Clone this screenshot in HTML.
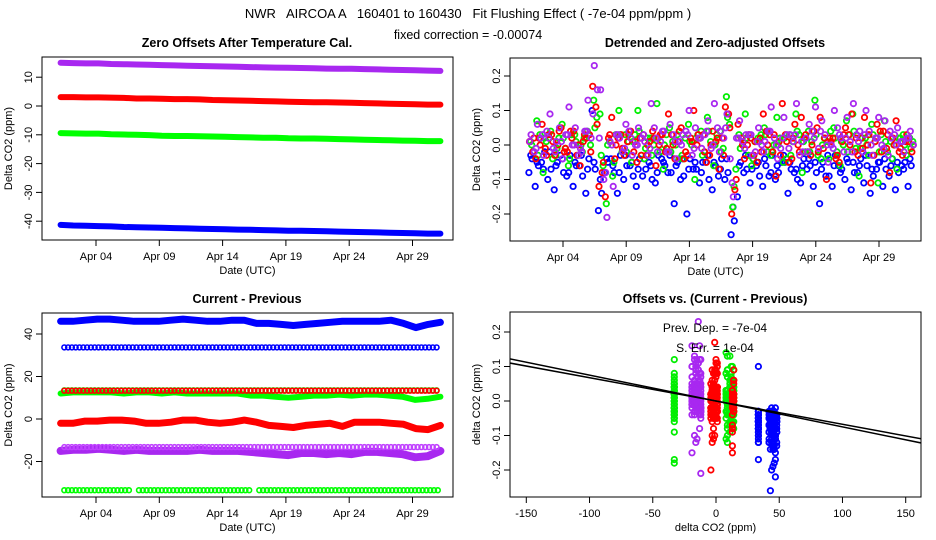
<!DOCTYPE html>
<html><head><meta charset="utf-8">
<style>
html,body{margin:0;padding:0;background:#fff;}
svg{display:block;font-family:"Liberation Sans",sans-serif;}
</style></head>
<body>
<svg id="s" width="936" height="540" viewBox="0 0 936 540" xmlns="http://www.w3.org/2000/svg">
<text x="468" y="18" font-size="13" text-anchor="middle" xml:space="preserve">NWR   AIRCOA A   160401 to 160430   Fit Flushing Effect ( -7e-04 ppm/ppm )</text>
<text x="468" y="39" font-size="12.5" text-anchor="middle">fixed correction = -0.00074</text>
<text x="247" y="47" font-size="12.5" font-weight="bold" text-anchor="middle">Zero Offsets After Temperature Cal.</text>
<text x="715" y="47" font-size="12.5" font-weight="bold" text-anchor="middle">Detrended and Zero-adjusted Offsets</text>
<text x="247" y="303" font-size="12.5" font-weight="bold" text-anchor="middle">Current - Previous</text>
<text x="715" y="303" font-size="12.5" font-weight="bold" text-anchor="middle">Offsets vs. (Current - Previous)</text>
</svg>
<script>
// ---------- data ----------
const dateTicks=[4,9,14,19,24,29];
const dateTickLabels=["Apr 04","Apr 09","Apr 14","Apr 19","Apr 24","Apr 29"];
const p1Ticks=[-40,-30,-20,-10,0,10];
const p2Ticks=[-0.2,-0.1,0,0.1,0.2];
const p2TickLabels=["-0.2","-0.1","0.0","0.1","0.2"];
const p3Ticks=[-20,0,20,40];
const p4XTicks=[-150,-100,-50,0,50,100,150];

// Panel 1 bands (daily)
const p1Purple=[15,14.9,14.8,14.8,14.6,14.5,14.4,14.3,14.2,14.1,14,13.9,13.8,13.7,13.6,13.5,13.4,13.35,13.3,13.2,13.1,13.0,12.95,12.9,12.8,12.7,12.6,12.5,12.4,12.3,12.2];
const p1Red=[3.1,3.1,3.0,3.0,2.9,2.8,2.6,2.6,2.5,2.4,2.4,2.3,2.1,2.0,1.9,1.8,1.7,1.6,1.5,1.4,1.3,1.3,1.2,1.1,1.0,0.9,0.8,0.7,0.6,0.5,0.5];
const p1Green=[-9.4,-9.5,-9.6,-9.6,-9.8,-9.9,-10.0,-10.1,-10.3,-10.4,-10.4,-10.5,-10.6,-10.7,-10.8,-10.9,-11.0,-11.0,-11.2,-11.3,-11.3,-11.4,-11.5,-11.6,-11.7,-11.8,-11.9,-12.0,-12.1,-12.2,-12.2];
const p1Blue=[-41.3,-41.5,-41.6,-41.7,-41.8,-42.0,-42.1,-42.2,-42.3,-42.4,-42.5,-42.6,-42.7,-42.8,-42.9,-43.0,-43.1,-43.2,-43.3,-43.3,-43.4,-43.5,-43.6,-43.7,-43.8,-43.9,-44.0,-44.1,-44.2,-44.3,-44.3];

// Panel 2 scatter
const p2BlueA=[-0.08,-0.12,-0.05,-0.10,-0.13,-0.03,-0.09,-0.12,-0.06,-0.14,0.10,-0.19,-0.08,-0.04,-0.14,-0.10,-0.06,-0.12,-0.09,-0.05,-0.11,-0.04,-0.08,-0.17,-0.10,-0.20,-0.07,-0.11,-0.05,-0.13,-0.09,-0.10,-0.26,-0.15,-0.08,-0.11,-0.06,-0.12,-0.09,-0.10,-0.05,-0.14,-0.08,-0.11,-0.07,-0.12,-0.17,-0.09,-0.12,-0.06,-0.10,-0.13,-0.08,-0.11,-0.14,-0.07,-0.12,-0.09,-0.13,-0.06,-0.12];
const p2BlueB=[-0.04,-0.06,-0.02,-0.07,-0.05,-0.08,-0.03,-0.06,-0.09,-0.04,-0.07,-0.14,-0.05,-0.08,-0.03,-0.06,-0.09,-0.04,-0.07,-0.10,-0.03,-0.06,-0.08,-0.05,-0.09,-0.04,-0.07,-0.05,-0.10,-0.06,-0.04,-0.08,-0.22,-0.05,-0.07,-0.04,-0.09,-0.06,-0.03,-0.08,-0.05,-0.07,-0.10,-0.04,-0.06,-0.08,-0.05,-0.09,-0.03,-0.07,-0.05,-0.08,-0.04,-0.06,-0.09,-0.05,-0.07,-0.04,-0.08,-0.05,-0.06];
const p2BlueC=[-0.03,-0.05,-0.07,-0.02,-0.06,-0.04,-0.08,-0.05,-0.03,-0.07,-0.05,-0.10,-0.04,-0.06,-0.08,-0.03,-0.05,-0.07,-0.04,-0.06,-0.08,-0.05,-0.03,-0.06,-0.04,-0.07,-0.05,-0.08,-0.03,-0.05,-0.07,-0.04,-0.18,-0.06,-0.03,-0.07,-0.05,-0.04,-0.08,-0.06,-0.03,-0.05,-0.07,-0.06,-0.04,-0.05,-0.07,-0.03,-0.06,-0.08,-0.04,-0.05,-0.06,-0.03,-0.07,-0.05,-0.04,-0.06,-0.05,-0.07,-0.04];
const p2GreenA=[0.01,0.07,-0.08,0.02,-0.03,0.06,-0.06,0.03,0.00,0.04,0.13,0.09,-0.17,-0.09,0.10,0.03,-0.05,0.10,-0.04,0.02,0.12,-0.07,0.05,0.00,-0.03,0.06,-0.10,0.04,0.08,-0.06,0.04,0.14,-0.18,0.03,0.09,-0.06,0.02,0.05,-0.03,0.08,-0.05,0.03,0.09,-0.08,0.04,0.13,-0.04,0.01,0.05,-0.06,0.07,0.09,-0.09,0.02,0.06,-0.11,0.07,0.01,-0.07,0.03,0.02];
const p2GreenB=[-0.02,0.03,0.01,-0.04,0.02,-0.01,0.03,-0.03,0.02,0.00,0.08,-0.06,0.01,0.03,-0.02,0.01,0.03,-0.03,0.02,0.00,-0.02,0.03,0.01,-0.04,0.02,0.00,0.03,-0.02,0.01,0.03,-0.01,0.06,-0.07,0.02,-0.03,0.01,0.03,-0.02,0.00,0.02,-0.04,0.01,0.03,-0.02,0.01,-0.03,0.02,0.04,-0.02,0.00,0.03,-0.01,0.02,-0.03,0.01,0.03,-0.02,0.00,0.02,-0.03,0.01];
const p2GreenC=[0.00,-0.03,0.02,0.04,-0.01,0.02,-0.04,0.01,-0.02,0.03,0.05,-0.03,0.00,-0.05,0.03,-0.02,0.01,0.04,-0.01,-0.03,0.02,0.00,-0.02,0.03,-0.04,0.01,0.02,-0.03,0.04,0.00,-0.02,0.08,-0.12,-0.01,0.02,-0.04,0.01,0.03,-0.02,0.00,0.02,-0.03,0.04,0.01,-0.02,0.03,0.00,-0.04,0.02,0.01,-0.02,0.04,-0.01,0.00,0.03,-0.02,0.01,-0.04,0.02,0.00,-0.01];
const p2RedA=[0.01,-0.04,0.06,0.03,-0.03,0.05,-0.02,0.04,-0.06,0.02,0.17,-0.12,-0.15,0.08,0.02,-0.03,0.04,-0.05,0.03,0.01,-0.06,0.03,0.09,-0.04,0.05,-0.03,0.10,0.02,-0.05,0.04,-0.07,0.11,-0.20,0.06,-0.04,0.02,-0.05,0.09,0.03,-0.09,0.12,-0.05,0.06,0.08,-0.02,0.04,0.08,-0.10,0.02,-0.05,0.05,0.09,-0.03,0.08,-0.11,0.06,0.04,-0.08,0.07,-0.03,0.01];
const p2RedB=[-0.02,0.02,-0.01,0.03,0.00,-0.02,0.04,-0.03,0.01,0.03,0.11,-0.08,0.02,-0.04,0.03,0.01,-0.02,0.02,-0.03,0.04,0.00,-0.02,0.03,0.01,-0.04,0.02,0.00,0.03,-0.03,0.01,0.02,0.09,-0.13,0.02,0.00,-0.03,0.02,0.04,-0.02,0.01,0.03,-0.04,0.00,0.02,-0.03,0.05,-0.01,0.02,-0.04,0.01,0.03,-0.02,0.02,0.00,-0.03,0.04,-0.01,0.02,-0.02,0.01,-0.02];
const p2RedC=[0.02,0.00,-0.03,0.01,0.04,-0.01,0.02,0.00,0.03,-0.02,0.06,-0.05,0.03,0.00,-0.01,0.03,0.01,-0.03,0.00,0.02,0.03,-0.01,0.00,0.04,-0.02,0.01,0.03,-0.02,0.00,0.02,-0.03,0.05,-0.10,0.00,0.03,0.01,-0.02,0.00,0.03,-0.03,0.01,0.02,-0.02,0.03,0.00,-0.02,0.02,0.01,-0.03,0.03,0.00,0.02,-0.01,0.03,0.01,-0.02,0.03,0.00,-0.01,0.03,0.00];
const p2PurpleA=[0.03,0.06,-0.03,0.09,0.01,-0.04,0.11,0.05,-0.02,0.13,0.23,0.16,-0.21,-0.12,0.02,0.06,-0.03,0.05,0.01,0.12,-0.02,0.04,0.06,-0.04,0.03,0.10,0.05,-0.01,0.07,0.12,0.04,0.09,-0.15,0.07,0.03,-0.03,0.05,0.01,0.11,-0.04,0.08,0.03,0.12,-0.02,0.06,0.11,0.07,-0.05,0.10,0.02,0.08,0.12,0.04,0.10,-0.03,0.08,0.07,0.02,0.05,-0.02,0.04];
const p2PurpleB=[-0.02,0.02,0.04,-0.01,0.05,0.03,0.00,-0.03,0.04,0.02,0.16,-0.10,0.01,0.03,-0.02,0.04,0.00,0.02,-0.03,0.05,0.01,-0.02,0.03,0.01,0.04,-0.03,0.02,0.03,-0.01,0.05,0.02,-0.04,0.02,0.01,0.03,-0.02,0.00,0.04,0.02,-0.01,0.03,0.01,-0.03,0.02,0.04,-0.01,0.03,0.00,0.05,-0.02,0.01,0.03,-0.02,0.04,0.02,0.00,-0.03,0.03,0.01,0.02,0.00];
const p2PurpleC=[0.01,-0.01,0.03,0.02,-0.02,0.01,0.03,0.00,-0.01,0.04,0.09,0.02,-0.08,0.00,0.03,-0.01,0.02,0.00,0.03,-0.01,0.02,0.04,-0.02,0.01,0.00,0.03,-0.01,0.02,0.04,0.00,-0.02,0.05,-0.11,0.02,-0.01,0.03,0.01,-0.02,0.04,0.00,0.02,-0.01,0.03,0.01,-0.02,0.02,0.04,0.00,-0.01,0.03,0.02,-0.02,0.01,0.03,0.00,0.02,-0.01,0.04,0.00,0.01,0.02];

// Panel 3 bands (daily)
const p3Blue=[46,46,46.5,47,47,46.5,46,46,46,46.5,47,46.5,46,46,46.5,46.5,45,45,44.5,44,44.5,45,45.5,46,46,46,46,46.5,45,43,44.5,45.5];
const p3Green=[12,12.5,12.5,12.5,12.5,12,12.5,12.5,12,12.5,12,12,12,12,12,11,11,10.5,10,10.5,11,11,11.5,11,11.5,11.5,11,10.5,9,9.5,10.5];
const p3Red=[-2,-2,-1,-1,-0.5,-0.5,-1,-2,-2,-1.5,-0.5,-0.5,-1.5,-2,-1.5,-0.5,-1.5,-3,-3.5,-4,-3,-2.5,-2,-3.5,-1.5,-1.5,-1.5,-2,-2.5,-4.5,-5,-3];
const p3Purple=[-15,-14.5,-14.5,-14,-14.5,-15,-14.5,-15,-15,-15,-15,-14.5,-15,-15,-15,-15.5,-16,-16.5,-17,-16,-16,-16.5,-16,-16.5,-15.5,-15.5,-16,-16.5,-18,-17.5,-15];
const p3RowBlue=33.7, p3RowGreen=13.5, p3RowRed=13.3, p3RowPurple=-13.2, p3RowGreenLow=-33.5;
const p3RowSegments=[[1.5,6.8],[7.4,16.4],[16.9,31.1]];

// Panel 4 x-groups
const p4BlueX=[33.5,45,43,47,46,44,33.5,42,48,45];
const p4GreenX=[-33,12,9,14,-33,11,13,8];
const p4RedX=[-2,-1,-3,13,0,-4,14,-2,1];
const p4PurpleX=[-15,-13,-17,-14,-19,-12,-16];
const p4FitSlopes=[-7.5e-4,-6.75e-4];
const p4FitIntercepts=[0.0,0.0];

// ---------- scales ----------
const s=document.getElementById('s');
const NS='http://www.w3.org/2000/svg';
const P1={x0:42,x1:453,y0:57,y1:240}, P2={x0:510,x1:921,y0:58,y1:241}, P3={x0:42,x1:453,y0:313,y1:497}, P4={x0:510,x1:921,y0:312,y1:497};
const xd1=d=>96+(d-4)*12.66, xd2=d=>563+(d-4)*12.64;
const y1=v=>106-2.88*v, y2=v=>145-345*v, y3=v=>419-2.125*v;
const x4=v=>716+1.2647*v, y4=v=>401-345*v;
const PURPLE='#a828f0';

function mk(tag,attrs,parent){const e=document.createElementNS(NS,tag);for(const k in attrs)e.setAttribute(k,attrs[k]);(parent||s).appendChild(e);return e;}

function frame(P,name){
  const r=mk('rect',{x:P.x0,y:P.y0,width:P.x1-P.x0,height:P.y1-P.y0,fill:'none',stroke:'#000','stroke-width':1});
  
  
}
function xAxis(P,ticks,labels,xf,name,title){
  const g=mk('g',{});
  
  
  const yb=P.y1;
  mk('line',{x1:xf(ticks[0]),x2:xf(ticks[ticks.length-1]),y1:yb,y2:yb,stroke:'#000'},g);
  ticks.forEach((t,i)=>{
    mk('line',{x1:xf(t),x2:xf(t),y1:yb,y2:yb+6,stroke:'#000'},g);
    const tx=mk('text',{x:xf(t),y:yb+20,'font-size':11,'text-anchor':'middle'},g);
    tx.textContent=labels[i];
    
    
  });
  const tt=mk('text',{x:(P.x0+P.x1)/2,y:yb+34,'font-size':11,'text-anchor':'middle'},g);
  tt.textContent=title;
  
  
}
function yAxis(P,ticks,labels,yf,name,title){
  const g=mk('g',{});
  
  
  const xl=P.x0;
  mk('line',{x1:xl,x2:xl,y1:yf(ticks[0]),y2:yf(ticks[ticks.length-1]),stroke:'#000'},g);
  ticks.forEach((t,i)=>{
    mk('line',{x1:xl-6,x2:xl,y1:yf(t),y2:yf(t),stroke:'#000'},g);
    const tx=mk('text',{x:xl-10,y:yf(t),'font-size':11,'text-anchor':'middle',transform:`rotate(-90 ${xl-10} ${yf(t)})`},g);
    tx.textContent=labels[i];
    
    
  });
  const cy=(P.y0+P.y1)/2;
  const tt=mk('text',{x:xl-30,y:cy,'font-size':11,'text-anchor':'middle',transform:`rotate(-90 ${xl-30} ${cy})`},g);
  tt.textContent=title;
  
  
}
function band(vals,xf,yf,color,w,name){
  const n=vals.length;
  const pts=vals.map((v,i)=>`${xf(1.2+i*30/(n-1)).toFixed(1)},${yf(v).toFixed(1)}`).join(' ');
  const l=mk('polyline',{points:pts,fill:'none',stroke:color,'stroke-width':w,'stroke-linejoin':'round','stroke-linecap':'round'});
  
  
}
function scatter(vals,xf,yf,color,off,name){
  const g=mk('g',{});
  
  
  const n=vals.length, step=30/(n-1);
  vals.forEach((v,i)=>{
    const c=mk('circle',{cx:xf(1.3+i*step+off*step).toFixed(1),cy:yf(v).toFixed(1),r:2.7,fill:'none',stroke:color,'stroke-width':1.8},g);
    
    
  });
}
function row(val,segs,xf,yf,color,name){
  const g=mk('g',{});
  
  
  segs.forEach(sg=>{
    for(let d=sg[0];d<=sg[1];d+=0.3){
      const c=mk('circle',{cx:xf(d).toFixed(1),cy:yf(val).toFixed(1),r:2.4,fill:'none',stroke:color,'stroke-width':1.6},g);
      
      
    }
  });
}
function scatter4(vals,xs,color,name){
  const g=mk('g',{});
  
  
  vals.forEach((v,i)=>{
    const c=mk('circle',{cx:x4(xs[i%xs.length]).toFixed(1),cy:y4(v).toFixed(1),r:2.7,fill:'none',stroke:color,'stroke-width':1.8},g);
    
    
  });
}

// ---------- panel 1 ----------
band(p1Purple,xd1,y1,PURPLE,6,'p1-series-purple');
band(p1Red,xd1,y1,'#ff0000',6,'p1-series-red');
band(p1Green,xd1,y1,'#00ff00',6,'p1-series-green');
band(p1Blue,xd1,y1,'#0000ff',6,'p1-series-blue');
frame(P1,'panel1');
xAxis(P1,dateTicks,dateTickLabels,xd1,'panel1','Date (UTC)');
yAxis(P1,p1Ticks,p1Ticks.map(String),y1,'panel1','Delta CO2 (ppm)');

// ---------- panel 2 ----------
scatter(p2BlueA,xd2,y2,'#0000ff',0,'p2-series-blue');
scatter(p2BlueB,xd2,y2,'#0000ff',0.5,'p2-series-blue-b');
scatter(p2BlueC,xd2,y2,'#0000ff',0.3,'p2-series-blue-c');
scatter(p2GreenA,xd2,y2,'#00ee00',0.25,'p2-series-green');
scatter(p2GreenB,xd2,y2,'#00ee00',0.75,'p2-series-green-b');
scatter(p2GreenC,xd2,y2,'#00ee00',0.45,'p2-series-green-c');
scatter(p2RedA,xd2,y2,'#ff0000',0.1,'p2-series-red');
scatter(p2RedB,xd2,y2,'#ff0000',0.6,'p2-series-red-b');
scatter(p2RedC,xd2,y2,'#ff0000',0.8,'p2-series-red-c');
scatter(p2PurpleA,xd2,y2,PURPLE,0.35,'p2-series-purple');
scatter(p2PurpleB,xd2,y2,PURPLE,0.85,'p2-series-purple-b');
scatter(p2PurpleC,xd2,y2,PURPLE,0.15,'p2-series-purple-c');
frame(P2,'panel2');
xAxis(P2,dateTicks,dateTickLabels,xd2,'panel2','Date (UTC)');
yAxis(P2,p2Ticks,p2TickLabels,y2,'panel2','Delta CO2 (ppm)');

// ---------- panel 3 ----------
band(p3Blue,xd1,y3,'#0000ff',7,'p3-series-blue');
row(p3RowBlue,[[1.5,31.1]],xd1,y3,'#0000ff','p3-row-blue');
band(p3Green,xd1,y3,'#00ff00',6,'p3-series-green');
row(p3RowGreen,[[1.5,31.1]],xd1,y3,'#00ff00','p3-row-green');
row(p3RowRed,[[1.5,31.1]],xd1,y3,'#ff0000','p3-row-red');
band(p3Red,xd1,y3,'#ff0000',7,'p3-series-red');
band(p3Purple,xd1,y3,PURPLE,8,'p3-series-purple');
row(p3RowPurple,[[1.5,31.1]],xd1,y3,'#c040ff','p3-row-purple');
row(p3RowGreenLow,p3RowSegments,xd1,y3,'#00ff00','p3-row-green-low');
frame(P3,'panel3');
xAxis(P3,dateTicks,dateTickLabels,xd1,'panel3','Date (UTC)');
yAxis(P3,p3Ticks,p3Ticks.map(String),y3,'panel3','Delta CO2 (ppm)');

// ---------- panel 4 ----------
const clip=mk('clipPath',{id:'c4'});
mk('rect',{x:P4.x0,y:P4.y0,width:P4.x1-P4.x0,height:P4.y1-P4.y0},clip);
scatter4(p2BlueA.concat(p2BlueB,p2BlueC),p4BlueX,'#0000ff','p4-series-blue');
scatter4(p2GreenA.concat(p2GreenB,p2GreenC),p4GreenX,'#00ee00','p4-series-green');
scatter4(p2RedA.concat(p2RedB,p2RedC),p4RedX,'#ff0000','p4-series-red');
scatter4(p2PurpleA.concat(p2PurpleB,p2PurpleC),p4PurpleX,PURPLE,'p4-series-purple');
p4FitSlopes.forEach((m,i)=>{
  const l=mk('line',{x1:x4(-170),y1:y4(p4FitIntercepts[i]+m*-170),x2:x4(170),y2:y4(p4FitIntercepts[i]+m*170),stroke:'#000','stroke-width':1.5,'clip-path':'url(#c4)'});
  
  
});
frame(P4,'panel4');
xAxis(P4,p4XTicks,p4XTicks.map(v=>v<0?'-'+(-v):String(v)),x4,'panel4','delta CO2 (ppm)');
yAxis(P4,p2Ticks,p2TickLabels,y4,'panel4','delta CO2 (ppm)');
const a1=mk('text',{x:715,y:332,'font-size':12,'text-anchor':'middle','xml:space':'preserve'});
a1.textContent='Prev. Dep. =  -7e-04';


const a2=mk('text',{x:715,y:352,'font-size':12,'text-anchor':'middle','xml:space':'preserve'});
a2.textContent='S. Err. =  1e-04';


</script>
</body></html>
